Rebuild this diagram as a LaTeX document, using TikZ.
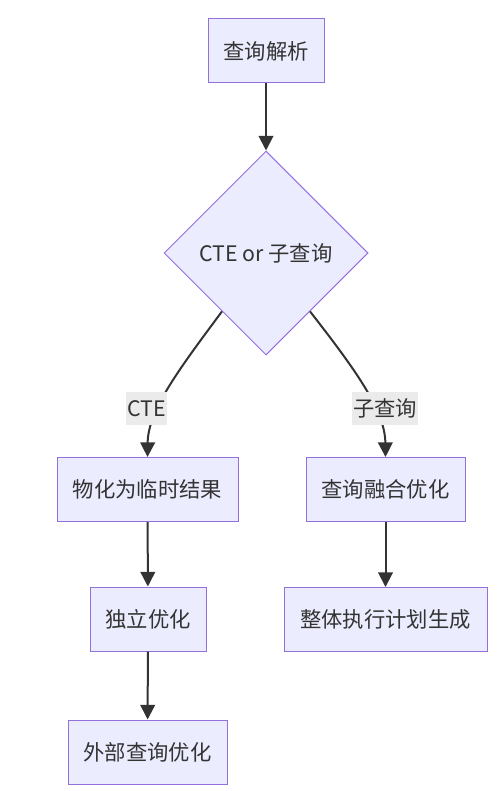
\documentclass[tikz,border=0pt]{standalone}
\usepackage{fontspec}
\setmainfont{Noto Sans CJK SC}
\usetikzlibrary{shapes.geometric,arrows.meta}
\definecolor{boxfill}{HTML}{ECECFF}
\definecolor{boxline}{HTML}{9370DB}
\definecolor{ink}{HTML}{333333}
\definecolor{lblfill}{HTML}{EBEBEB}

\tikzset{
  stepbox/.style={draw=boxline, fill=boxfill, line width=0.75pt, text=ink,
    inner sep=0pt, minimum height=48pt, font=\fontsize{16}{19}\selectfont},
  choice/.style={diamond, aspect=1, draw=boxline, fill=boxfill, line width=0.75pt,
    text=ink, inner sep=0pt, minimum width=153pt, minimum height=153pt,
    font=\fontsize{16}{19}\selectfont},
  flow/.style={draw=ink, line width=1.5pt},
  tip/.style={-{Triangle[length=11pt,width=11pt]}},
  edgelbl/.style={fill=lblfill, text=ink, inner xsep=1pt, inner ysep=0pt,
    minimum height=25pt, font=\fontsize{16}{19}\selectfont}
}

\begin{document}
\begin{tikzpicture}[x=0.75pt, y=-0.75pt]
	  \useasboundingbox (0,0) rectangle (501,791);
	  \node [stepbox, minimum width=87pt] (parse) at (266,51) {查询解析};
	  \node [choice] (dia) at (266,253) {CTE or 子查询};
	  \node [stepbox, minimum width=135.75pt] (mat) at (147.5,489.5) {物化为临时结果};
	  \node [stepbox, minimum width=119.25pt] (merge) at (385.5,489.5) {查询融合优化};
	  \node [stepbox, minimum width=87pt] (indep) at (148,619) {独立优化};
	  \node [stepbox, minimum width=152.25pt] (plan) at (385.5,619.5) {整体执行计划生成};
	  \node [stepbox, minimum width=119.25pt] (outer) at (147.5,752) {外部查询优化};
	  % Arrows
	  \draw [flow, tip] (parse) -- (dia);
	  \draw [flow, tip] (dia.233) .. controls (180,368) and (148,410) .. (mat.north);
	  \draw [flow, tip] (dia.-53) .. controls (354,368) and (385,410) .. (merge.north);
	  \draw [flow, tip] (mat) -- (indep);
	  \draw [flow, tip] (indep) -- (outer);
	  \draw [flow, tip] (merge) -- (plan);
	  % Edge labels
	  \node [edgelbl] (cte) at (146.5,408.5) {CTE};
	  \node [edgelbl] (sub) at (385,408.5) {子查询};
	 \end{tikzpicture}
\end{document}
